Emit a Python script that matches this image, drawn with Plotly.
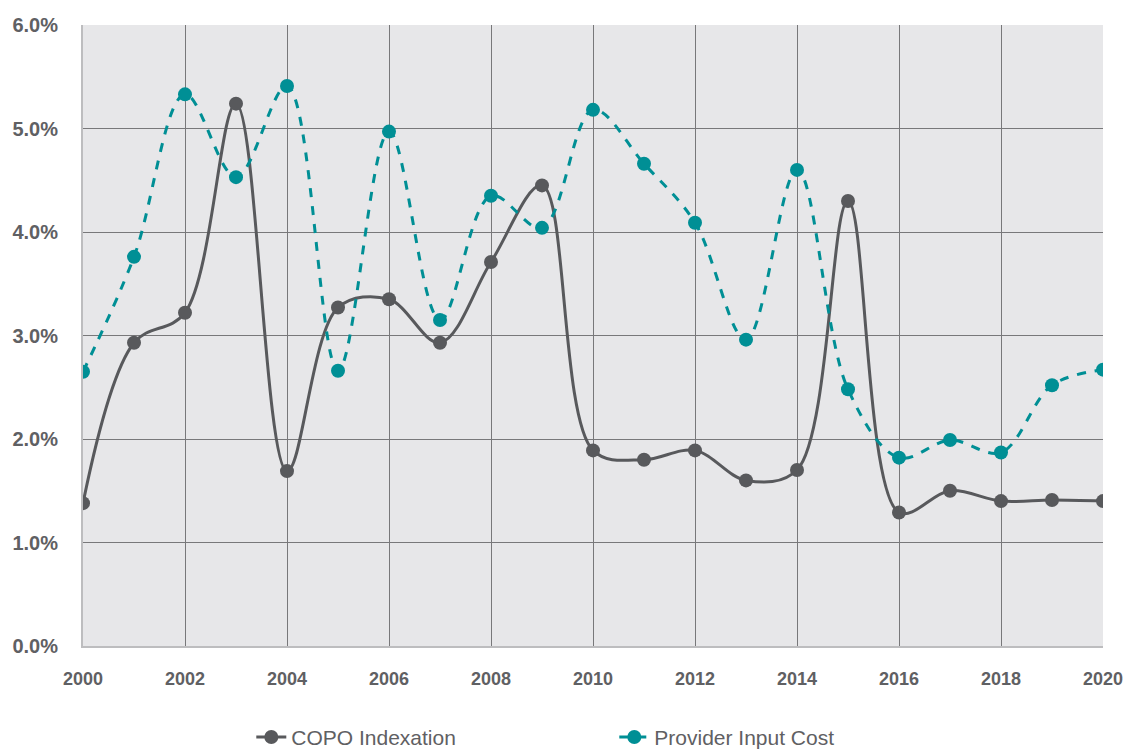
import plotly.graph_objects as go

years = list(range(2000, 2021))
copo = [1.38, 2.93, 3.22, 5.24, 1.69, 3.27, 3.35, 2.93, 3.71, 4.45, 1.89,
        1.80, 1.89, 1.60, 1.70, 4.30, 1.29, 1.50, 1.40, 1.41, 1.40]
provider = [2.65, 3.76, 5.33, 4.53, 5.41, 2.66, 4.97, 3.15, 4.35, 4.04, 5.18,
            4.66, 4.09, 2.96, 4.60, 2.48, 1.82, 1.99, 1.87, 2.52, 2.67]
x_ticks = list(range(2000, 2021, 2))
y_ticks = [0, 1, 2, 3, 4, 5, 6]

grey = "#58595c"
teal = "#008f95"
font_family = "Liberation Sans, Arial, sans-serif"

fig = go.Figure()
fig.add_trace(go.Scatter(
    x=years, y=copo, name="COPO Indexation", mode="lines+markers",
    line=dict(color=grey, width=3, shape="spline", smoothing=1.0),
    marker=dict(color=grey, size=14),
))
fig.add_trace(go.Scatter(
    x=years, y=provider, name="Provider Input Cost", mode="lines+markers",
    line=dict(color=teal, width=3, dash="dash", shape="spline", smoothing=1.0),
    marker=dict(color=teal, size=14),
))

fig.update_layout(
    width=1131, height=754,
    margin=dict(l=83, r=28, t=25, b=108, autoexpand=False),
    paper_bgcolor="white",
    plot_bgcolor="#e7e7e9",
    font=dict(family=font_family, color="#5f6063"),
    showlegend=True,
    legend=dict(
        orientation="h", x=0.165, xanchor="left", y=-0.147, yanchor="middle",
        font=dict(size=21, color="#5f6063"),
        entrywidth=318, entrywidthmode="pixels",
        bgcolor="rgba(0,0,0,0)",
    ),
)
fig.update_xaxes(
    range=[2000, 2020], tickvals=x_ticks,
    ticktext=[str(v) for v in x_ticks],
    tickfont=dict(size=18, family=font_family, color="#5f6063", weight="bold"),
    showgrid=True, gridcolor="#78787a", gridwidth=1,
    showline=True, linecolor="#bdbdbf", linewidth=2,
    zeroline=False, ticks="", ticklabelstandoff=15,
)
fig.update_yaxes(
    range=[0, 6], tickvals=y_ticks,
    ticktext=[f"{v:.1f}%" for v in y_ticks],
    tickfont=dict(size=20, family=font_family, color="#5f6063", weight="bold"),
    showgrid=True, gridcolor="#78787a", gridwidth=1,
    showline=True, linecolor="#bdbdbf", linewidth=2,
    zeroline=False, ticks="", ticklabelstandoff=19,
)

fig.write_html(
    "out.html",
    config={"displayModeBar": False},
    post_script="document.body.style.margin='0';document.body.style.overflow='hidden';",
)
